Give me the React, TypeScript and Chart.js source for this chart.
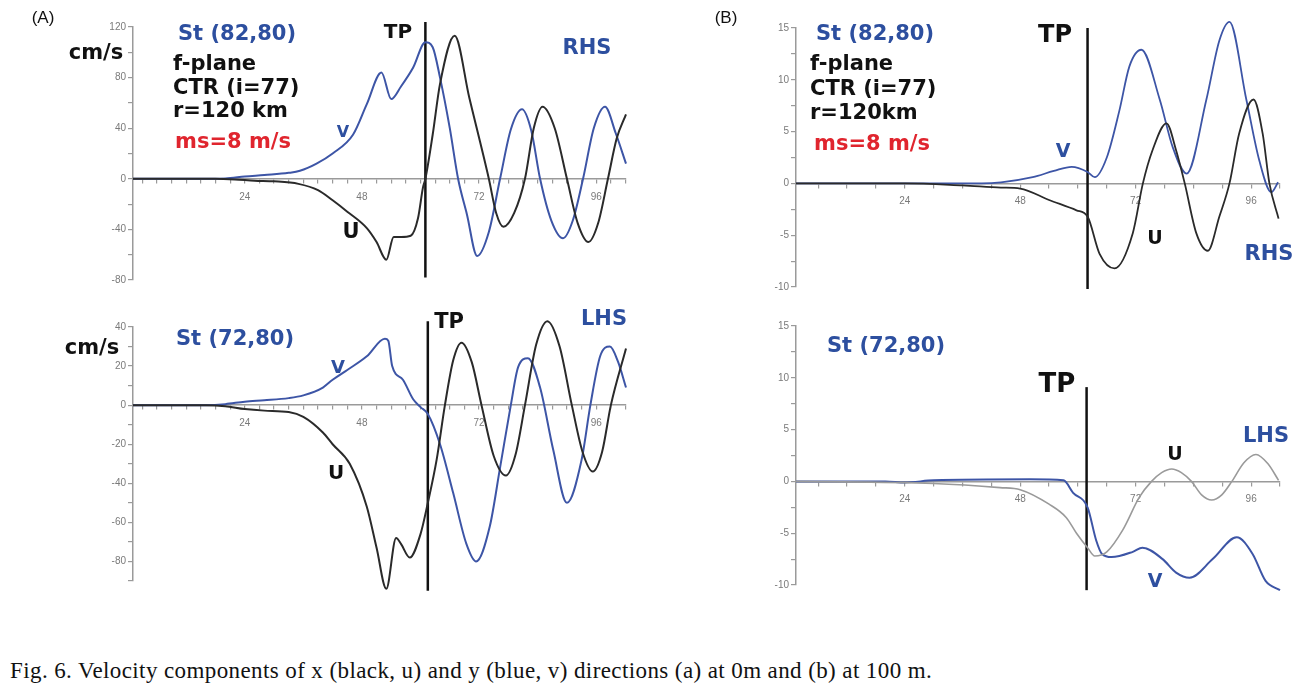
import React, { useEffect, useRef } from 'react';
import { Chart, registerables } from 'chart.js';

Chart.register(...registerables);

// ---------- data (hours, values) ----------
const aTopVHours = [1.1, 14, 20, 24, 28, 33, 35.3, 38.7, 42, 46.2, 49, 52, 54, 56, 58.5, 61, 62.5, 64, 66, 67.7, 69.5, 71.6, 74, 76.3, 78.5, 80.8, 82.7, 84.5, 86.8, 89.2, 91.2, 93.3, 95.5, 97.8, 100, 102.1];
const aTopVValues = [0, 0, 0.3, 1.8, 3, 4.7, 6.3, 12, 20, 35, 59, 84, 63, 73, 88, 108, 104, 80, 40, 0, -28, -61, -42, 0, 39, 55, 38, 0, -33, -47, -33, 0, 40, 57, 36, 12];
const aTopUHours = [1.1, 18, 22, 26, 30, 35, 39, 42, 45, 49, 51, 53, 54.5, 56, 58, 59.5, 60.5, 61, 62.5, 64, 67, 70, 74, 75.5, 77, 79.2, 81.4, 83.2, 85, 87.5, 90, 92.2, 94.4, 96.4, 98.4, 100.2, 102.1];
const aTopUValues = [0, 0, -0.5, -1.5, -2, -4, -9, -17, -26, -39, -50, -64, -46, -46, -45, -31, -7, 0, 35, 75, 113, 64, 0, -27, -38, -27, 0, 40, 57, 40, 0, -35, -50, -35, 0, 32, 51];

const aBotVHours = [1.1, 16, 20, 24, 28, 33, 36, 40, 42, 45, 49, 52.7, 53.4, 54.2, 56.4, 58.5, 60, 61.5, 64, 66.7, 69.4, 71.4, 74.2, 76.3, 78.5, 80, 82, 84.5, 87.2, 90, 93, 94.8, 96.8, 98.8, 100.5, 102.1];
const aBotVValues = [0, 0, 0.5, 1.8, 2.5, 3.6, 5, 9, 13, 18, 25, 34, 33, 20, 13, 3, -1, -4.5, -20, -45, -71, -80, -62, -32, 0, 19.5, 24, 9, -23, -50, -28, 0, 25, 30, 22, 9];
const aBotUHours = [1.1, 16, 20, 24, 28, 33, 36, 40, 42, 45.5, 49, 51, 53, 55, 56, 57.8, 60, 61.5, 63.3, 65, 66.7, 68.4, 70.5, 72.5, 75, 77.5, 79.5, 81.4, 83.7, 86, 88.5, 91, 93.2, 95.3, 97.2, 99, 102.1];
const aBotUValues = [0, 0, -0.5, -2, -2.8, -3.5, -6, -14, -20, -30, -52, -73, -94, -68, -71, -78, -66, -50, -28, 0, 23, 32, 22, 0, -26, -36, -25, 0, 31, 43, 30, 0, -24, -34, -24, 0, 29];

const bTopVHours = [1.4, 20, 40, 44, 50.6, 55, 58.7, 62, 63.5, 66, 68.6, 70.7, 73.2, 77, 79.7, 82.6, 86.7, 89.4, 91.5, 95, 97.7, 100.2, 101.6];
const bTopVValues = [0, 0, 0, 0.1, 0.6, 1.2, 1.6, 1.1, 0.6, 2.5, 7, 11.3, 12.9, 8.1, 3.5, 0.95, 8.1, 13.8, 15.6, 8.1, 2.2, -0.85, 0.1];
const bTopUHours = [1.4, 24, 36, 44, 48, 54, 59.7, 62, 64.5, 67.6, 71.4, 73.5, 75.5, 78.4, 80.4, 82.2, 84.6, 87, 89.4, 91.5, 93.5, 96.5, 98.4, 99.8, 101.7];
const bTopUValues = [0, 0, -0.2, -0.4, -0.5, -1.6, -2.6, -3.2, -6.8, -8.2, -4.8, 0, 3.2, 5.8, 3.2, 0, -4.8, -6.5, -3.2, 0, 4.8, 8.1, 4.8, 0, -3.4];

const bBotVHours = [1.4, 20, 24, 30, 50, 57, 59, 62, 63.8, 65, 67, 71.4, 73.4, 77.6, 80.4, 83.2, 88, 93, 96.3, 99, 102];
const bBotVValues = [0, 0, -0.1, 0.1, 0.2, 0.1, -1.1, -2.5, -5.7, -7, -7.3, -6.8, -6.4, -7.5, -8.8, -9.3, -7.5, -5.4, -7, -9.6, -10.5];
const bBotUHours = [1.4, 30, 43.8, 48, 54, 57.6, 59.7, 62, 63.5, 66, 69.3, 72.8, 75.3, 77.4, 79.5, 81.5, 83.6, 85.7, 87.8, 89.9, 92, 94.5, 97, 99.5, 101.7];
const bBotUValues = [0, -0.2, -0.6, -0.8, -2.2, -3.5, -5, -6.4, -7.2, -6.8, -4.7, -1.5, 0, 0.85, 1.2, 0.85, 0, -1.3, -1.8, -1.3, 0, 1.8, 2.6, 1.7, 0.1];

// turning point (hour) and vertical extent of the TP marker
const tpA = [61, 61.5];
const tpB = [62, 61.8];
const tpRangeATop = [-78, 124];
const tpRangeABot = [-95, 43];
const tpRangeBTop = [-10.2, 15];
const tpRangeBBot = [-10.5, 9.1];

// ticks
const xTicksA = [3, 6, 9, 12, 15, 18, 21, 24, 27, 30, 33, 36, 39, 42, 45, 48, 51, 54, 57, 60, 63, 66, 69, 72, 75, 78, 81, 84, 87, 90, 93, 96, 99, 102];
const xTicksB = [6, 12, 18, 24, 30, 36, 42, 48, 54, 60, 66, 72, 78, 84, 90, 96, 102];
const xLabels = [24, 48, 72, 96];
const yTicksATop = [-80, -60, -40, -20, 0, 20, 40, 60, 80, 100, 120];
const yLabelsATop = [-80, -40, 0, 40, 80, 120];
const yTicksABot = [-90, -80, -70, -60, -50, -40, -30, -20, -10, 0, 10, 20, 30, 40];
const yLabelsABot = [-80, -60, -40, -20, 0, 20, 40];
const yTicksB = [-10, -7.5, -5, -2.5, 0, 2.5, 5, 7.5, 10, 12.5, 15];
const yLabelsB = [-10, -5, 0, 5, 10, 15];

const BLUE = '#3d55a6';
const BLACK = '#2a2a2a';
const GRAY = '#9a9a9a';
const TEXT_BLUE = '#2d4f9f';
const RED = '#e0252e';
const AXIS = '#9a9a9a';

type Area = { left: number; right: number; top: number; bottom: number };
type Line = { hours: number[]; values: number[]; color: string; width: number };

function pts(h: number[], v: number[]) {
  return h.map((x, i) => ({ x, y: v[i] }));
}

type PanelProps = {
  left: number; top: number; width: number; height: number; area: Area;
  xMin: number; xMax: number; yMin: number; yMax: number;
  xTicks: number[]; yTicks: number[]; yLabels: number[];
  lines: Line[]; tp: number; tpRange: number[];
};

function Panel(p: PanelProps) {
  const ref = useRef<HTMLCanvasElement | null>(null);
  useEffect(() => {
    if (!ref.current) return;
    const datasets: any[] = p.lines.map((l) => ({
      data: pts(l.hours, l.values),
      borderColor: l.color,
      borderWidth: l.width,
      pointRadius: 0,
      cubicInterpolationMode: 'monotone',
      tension: 0.4,
      fill: false,
      clip: false,
    }));
    datasets.push({
      data: [{ x: p.tp, y: p.tpRange[0] }, { x: p.tp, y: p.tpRange[1] }],
      borderColor: '#111',
      borderWidth: 2.5,
      pointRadius: 0,
      tension: 0,
      fill: false,
      clip: false,
    });
    const chart = new Chart(ref.current, {
      type: 'line',
      data: { datasets },
      options: {
        responsive: false,
        animation: false,
        devicePixelRatio: 1,
        layout: {
          padding: { left: 0, right: p.width - p.area.right, top: p.area.top, bottom: p.height - p.area.bottom },
        },
        plugins: { legend: { display: false }, tooltip: { enabled: false } },
        scales: {
          x: {
            type: 'linear',
            min: p.xMin,
            max: p.xMax,
            position: { y: 0 } as any,
            afterBuildTicks: (s: any) => { s.ticks = p.xTicks.map((v) => ({ value: v })); },
            ticks: {
              autoSkip: false,
              maxRotation: 0,
              color: '#7a7a7a',
              font: { size: 10, family: 'Liberation Sans' },
              padding: 8,
              callback: (v: any) => (xLabels.includes(Number(v)) ? String(v) : ''),
            },
            grid: { drawOnChartArea: false, drawTicks: true, tickLength: 4, color: AXIS, lineWidth: 1.2 },
            border: { display: true, color: AXIS, width: 1.5 },
          },
          y: {
            type: 'linear',
            min: p.yMin,
            max: p.yMax,
            position: 'left',
            afterFit: (s: any) => { s.width = p.area.left; },
            afterBuildTicks: (s: any) => { s.ticks = p.yTicks.map((v) => ({ value: v })); },
            ticks: {
              autoSkip: false,
              color: '#7a7a7a',
              font: { size: 10, family: 'Liberation Sans' },
              padding: 2,
              callback: (v: any) => (p.yLabels.includes(Number(v)) ? String(v) : ''),
            },
            grid: { drawOnChartArea: false, drawTicks: true, tickLength: 5, color: AXIS, lineWidth: 1.2 },
            border: { display: true, color: AXIS, width: 1.5 },
          },
        },
      } as any,
    });
    return () => chart.destroy();
  }, []);
  return (
    <canvas
      ref={ref}
      width={p.width}
      height={p.height}
      style={{ position: 'absolute', left: p.left, top: p.top, width: p.width, height: p.height }}
    />
  );
}

type Lbl = { text: string; x: number; y: number; size: number; color?: string; align?: 'left' | 'center'; weight?: string; family?: string };

const labels: Lbl[] = [
  { text: '(A)', x: 43, y: 17, size: 17, weight: 'normal', family: 'Liberation Sans' },
  { text: 'cm/s', x: 96, y: 52, size: 21 },
  { text: 'St (82,80)', x: 237, y: 33, size: 21, color: TEXT_BLUE },
  { text: 'f-plane', x: 173, y: 63, size: 21, align: 'left' },
  { text: 'CTR (i=77)', x: 173, y: 87, size: 21, align: 'left' },
  { text: 'r=120 km', x: 173, y: 110, size: 21, align: 'left' },
  { text: 'ms=8 m/s', x: 175, y: 141, size: 21, align: 'left', color: RED },
  { text: 'V', x: 343, y: 132, size: 16, color: TEXT_BLUE },
  { text: 'U', x: 351, y: 231, size: 21 },
  { text: 'TP', x: 398, y: 31, size: 20 },
  { text: 'RHS', x: 587, y: 47, size: 21, color: TEXT_BLUE },

  { text: 'cm/s', x: 92, y: 347, size: 21 },
  { text: 'St (72,80)', x: 235, y: 338, size: 21, color: TEXT_BLUE },
  { text: 'V', x: 338, y: 367, size: 18, color: TEXT_BLUE },
  { text: 'U', x: 336, y: 472, size: 20 },
  { text: 'TP', x: 449, y: 321, size: 21 },
  { text: 'LHS', x: 604, y: 318, size: 21, color: TEXT_BLUE },

  { text: '(B)', x: 726, y: 17, size: 17, weight: 'normal', family: 'Liberation Sans' },
  { text: 'St (82,80)', x: 875, y: 33, size: 21, color: TEXT_BLUE },
  { text: 'f-plane', x: 810, y: 63, size: 21, align: 'left' },
  { text: 'CTR (i=77)', x: 810, y: 88, size: 21, align: 'left' },
  { text: 'r=120km', x: 810, y: 112, size: 21, align: 'left' },
  { text: 'ms=8 m/s', x: 814, y: 143, size: 21, align: 'left', color: RED },
  { text: 'TP', x: 1055, y: 34, size: 24 },
  { text: 'V', x: 1063, y: 150, size: 19, color: TEXT_BLUE },
  { text: 'U', x: 1155, y: 237, size: 19 },
  { text: 'RHS', x: 1269, y: 253, size: 21, color: TEXT_BLUE },

  { text: 'St (72,80)', x: 886, y: 345, size: 21, color: TEXT_BLUE },
  { text: 'TP', x: 1057, y: 383, size: 26 },
  { text: 'U', x: 1175, y: 453, size: 19 },
  { text: 'LHS', x: 1266, y: 435, size: 21, color: TEXT_BLUE },
  { text: 'V', x: 1155, y: 580, size: 19, color: TEXT_BLUE },
];

export default function App() {
  return (
    <div style={{ position: 'absolute', left: 0, top: 0, width: 1316, height: 690, background: '#fff', overflow: 'hidden' }}>
      <Panel left={0} top={0} width={660} height={300} area={{ left: 133, right: 626, top: 27, bottom: 280 }}
        xMin={1.1} xMax={102.1} yMin={-80} yMax={120} xTicks={xTicksA} yTicks={yTicksATop} yLabels={yLabelsATop}
        lines={[{ hours: aTopUHours, values: aTopUValues, color: BLACK, width: 2 }, { hours: aTopVHours, values: aTopVValues, color: BLUE, width: 2 }]}
        tp={tpA[0]} tpRange={tpRangeATop} />
      <Panel left={0} top={300} width={660} height={310} area={{ left: 133, right: 626, top: 27, bottom: 281 }}
        xMin={1.1} xMax={102.1} yMin={-90} yMax={40} xTicks={xTicksA} yTicks={yTicksABot} yLabels={yLabelsABot}
        lines={[{ hours: aBotUHours, values: aBotUValues, color: BLACK, width: 2 }, { hours: aBotVHours, values: aBotVValues, color: BLUE, width: 2 }]}
        tp={tpA[1]} tpRange={tpRangeABot} />
      <Panel left={663} top={0} width={653} height={300} area={{ left: 133, right: 617, top: 28, bottom: 287 }}
        xMin={1.4} xMax={102} yMin={-10} yMax={15} xTicks={xTicksB} yTicks={yTicksB} yLabels={yLabelsB}
        lines={[{ hours: bTopUHours, values: bTopUValues, color: BLACK, width: 1.8 }, { hours: bTopVHours, values: bTopVValues, color: BLUE, width: 1.8 }]}
        tp={tpB[0]} tpRange={tpRangeBTop} />
      <Panel left={663} top={300} width={653} height={310} area={{ left: 133, right: 617, top: 26, bottom: 285 }}
        xMin={1.4} xMax={102} yMin={-10} yMax={15} xTicks={xTicksB} yTicks={yTicksB} yLabels={yLabelsB}
        lines={[{ hours: bBotUHours, values: bBotUValues, color: GRAY, width: 1.6 }, { hours: bBotVHours, values: bBotVValues, color: BLUE, width: 2 }]}
        tp={tpB[1]} tpRange={tpRangeBBot} />
      {labels.map((l, i) => (
        <div key={i} style={{
          position: 'absolute',
          left: l.x,
          top: l.y,
          transform: l.align === 'left' ? 'translate(0,-50%)' : 'translate(-50%,-50%)',
          fontFamily: l.family || '"DejaVu Sans", sans-serif',
          fontWeight: (l.weight || 'bold') as any,
          fontSize: l.size,
          lineHeight: 1,
          color: l.color || '#111',
          whiteSpace: 'nowrap',
        }}>{l.text}</div>
      ))}
      <div style={{
        position: 'absolute', left: 10, top: 670, transform: 'translate(0,-50%)',
        fontFamily: '"Liberation Serif", serif', fontSize: 23, letterSpacing: 0.4, lineHeight: 1, color: '#111', whiteSpace: 'nowrap',
      }}>Fig. 6. Velocity components of x (black, u) and y (blue, v) directions (a) at 0m and (b) at 100 m.</div>
    </div>
  );
}
